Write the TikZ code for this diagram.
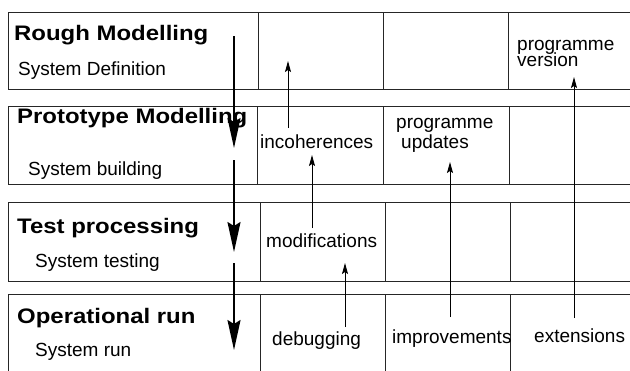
\documentclass[tikz,border=0pt]{standalone}
\usepackage{fontspec}
\setmainfont{Liberation Sans}
\newfontfamily\titlefont[FakeStretch=1.14]{Liberation Sans Bold}
\usetikzlibrary{arrows.meta}
\begin{document}
\begin{tikzpicture}[x=1pt,y=-1pt,
  grid/.style={line width=0.9pt, draw=black!85},
  title/.style={anchor=base west, inner sep=0pt, font=\titlefont\fontsize{21}{21}\selectfont},
  sub/.style={anchor=base west, inner sep=0pt, font=\fontsize{19}{19}\selectfont},
  flow/.style={line width=2pt, -{Stealth[length=30pt,width=13pt,inset=4pt]}},
  feed/.style={line width=1pt, -{Stealth[length=11pt,width=6pt,inset=2pt]}}]
\useasboundingbox (0,0) rectangle (630,370);
% row 1
\draw[grid] (632,12) -- (8,12) -- (8,89) -- (632,89);
\draw[grid] (258,12) -- (258,89) (383,12) -- (383,89) (508,12) -- (508,89);
% row 2
\draw[grid] (632,106) -- (8,106) -- (8,184) -- (632,184);
\draw[grid] (257,106) -- (257,184) (383,106) -- (383,184) (509,106) -- (509,184);
% row 3
\draw[grid] (632,202) -- (8,202) -- (8,281) -- (632,281);
\draw[grid] (260,202) -- (260,281) (385,202) -- (385,281) (510,202) -- (510,281);
% row 4
\draw[grid] (632,294) -- (8,294) -- (8,372);
\draw[grid] (260,294) -- (260,372) (385,294) -- (385,372) (510,294) -- (510,372);
% texts
\node[title] (t1) at (14,40) {Rough Modelling};
\node[sub] (s1) at (18,75) {System Definition};
\node[title] (t2) at (17,123) {Prototype Modelling};
\node[sub] (s2) at (28,175) {System building};
\node[title] (t3) at (17,233) {Test processing};
\node[sub] (s3) at (35,267) {System testing};
\node[title] (t4) at (17,323) {Operational run};
\node[sub] (s4) at (35,356) {System run};
\node[sub] (pv1) at (517,50) {programme};
\node[sub] (pv2) at (517,66) {version};
\node[sub] (inc) at (260,148) {incoherences};
\node[sub] (pu1) at (396,128) {programme};
\node[sub] (pu2) at (401,148) {updates};
\node[sub] (mod) at (266,247) {modifications};
\node[sub] (dbg) at (272,345) {debugging};
\node[sub] (imp) at (392,343) {improvements};
\node[sub] (ext) at (534,342) {extensions};
% main flow
\coordinate (m0) at (234,36);  \coordinate (m1) at (234,148);
\coordinate (m2) at (234,160); \coordinate (m3) at (234,252);
\coordinate (m4) at (234,263); \coordinate (m5) at (234,350);
\draw[flow] (m0) -- (m1);
\draw[flow] (m2) -- (m3);
\draw[flow] (m4) -- (m5);
% feedback arrows
\coordinate (a0) at (288,128); \coordinate (a1) at (288,61);
\coordinate (b0) at (312,228); \coordinate (b1) at (312,155);
\coordinate (c0) at (345,327); \coordinate (c1) at (345,263);
\coordinate (d0) at (450,317); \coordinate (d1) at (450,162);
\coordinate (e0) at (574,318); \coordinate (e1) at (574,77);
\draw[feed] (a0) -- (a1);
\draw[feed] (b0) -- (b1);
\draw[feed] (c0) -- (c1);
\draw[feed] (d0) -- (d1);
\draw[feed] (e0) -- (e1);
\end{tikzpicture}
\end{document}
